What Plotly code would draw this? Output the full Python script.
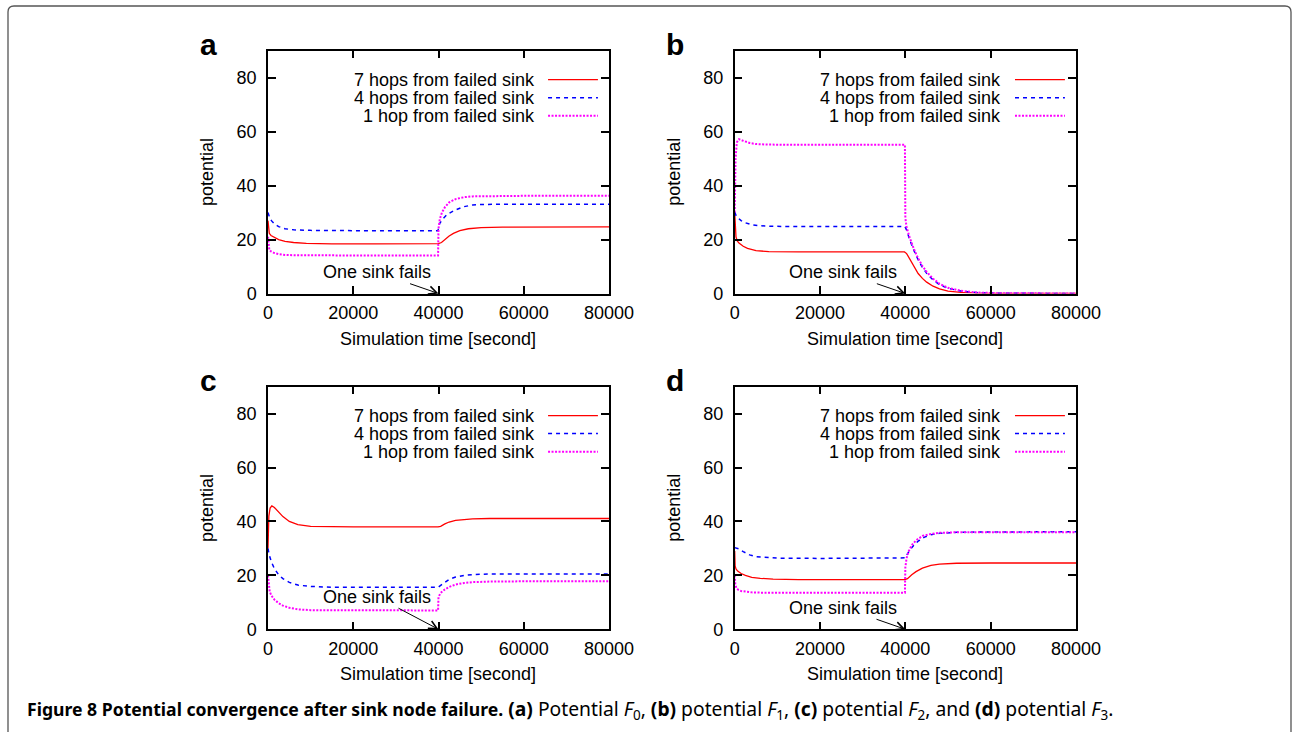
import plotly.graph_objects as go

# ---------------- data ----------------
# Panel a: potential F0
a_t7 = [0, 100, 300, 700, 1500, 2500, 4000, 6000, 9000, 15000, 25000, 35000, 40000, 40700, 41500, 42500, 43500, 45000, 47000, 50000, 55000, 63000, 70000, 80000]
a_v7 = [27, 23.5, 22.3, 21.5, 20.7, 20.0, 19.3, 18.9, 18.6, 18.4, 18.4, 18.4, 18.5, 18.9, 20.0, 21.3, 22.3, 23.3, 24.0, 24.4, 24.6, 24.7, 24.7, 24.7]
a_t4 = [0, 300, 800, 1500, 2500, 4000, 6000, 10000, 20000, 30000, 39900, 40000, 40300, 41000, 42000, 44000, 46000, 48000, 50000, 55000, 60000, 80000]
a_v4 = [30, 28.5, 27, 25.8, 24.8, 24.0, 23.6, 23.4, 23.3, 23.3, 23.3, 24.5, 26, 27.6, 29.3, 31.0, 32.2, 32.8, 33.0, 33.1, 33.1, 33.1]
a_t1 = [0, 100, 300, 700, 1500, 2500, 4000, 6000, 10000, 20000, 39900, 40000, 40300, 40800, 41500, 42500, 44000, 46000, 48000, 52000, 60000, 80000]
a_v1 = [21, 17.5, 16.3, 15.6, 15.0, 14.6, 14.3, 14.2, 14.1, 14.1, 14.1, 24, 27.5, 30, 32, 33.8, 35.0, 35.7, 36.0, 36.1, 36.2, 36.2]

# Panel b: potential F1
b_t7 = [0, 100, 300, 600, 1000, 2000, 3000, 5000, 8000, 15000, 39800, 40300, 41000, 42000, 43000, 44000, 45000, 46500, 48000, 50000, 53000, 57000, 62000, 80000]
b_v7 = [30, 24, 21, 19.5, 18.7, 17.5, 16.7, 15.9, 15.5, 15.4, 15.4, 14.8, 12.8, 9.8, 7.4, 5.6, 4.2, 2.7, 1.7, 0.9, 0.4, 0.15, 0.05, 0]
b_t4 = [0, 300, 800, 1500, 2500, 4000, 6000, 9000, 15000, 39900, 40300, 41000, 42000, 43000, 44000, 45000, 46500, 48000, 50000, 53000, 57000, 62000, 80000]
b_v4 = [30.2, 29, 28, 27, 26.2, 25.5, 25.1, 24.9, 24.8, 24.8, 23.5, 20, 16, 12.5, 9.7, 7.5, 5, 3.3, 1.9, 0.9, 0.3, 0.1, 0]
b_t1 = [0, 200, 500, 1000, 2000, 3500, 5000, 8000, 15000, 39900, 40000, 40300, 41000, 42000, 43000, 44000, 45000, 46500, 48000, 50000, 53000, 57000, 62000, 80000]
b_v1 = [30, 50, 56, 57.2, 56.6, 55.8, 55.4, 55.2, 55.1, 55.1, 28, 24.5, 20.8, 16.5, 13, 10.2, 8, 5.5, 3.6, 2.1, 1, 0.35, 0.1, 0]

# Panel c: potential F2
c_t7 = [0, 200, 500, 900, 1500, 2500, 3500, 5000, 7000, 10000, 20000, 39900, 40500, 41500, 42500, 44000, 46000, 48000, 52000, 60000, 80000]
c_v7 = [30, 42, 45, 45.8, 45.2, 43.5, 41.8, 40, 38.8, 38.2, 38, 38, 38.2, 39.1, 39.8, 40.4, 40.8, 41, 41.1, 41.1, 41.1]
c_t4 = [0, 300, 800, 1500, 2500, 3500, 5000, 7000, 10000, 15000, 39900, 40500, 41500, 42500, 44000, 46000, 48000, 52000, 60000, 80000]
c_v4 = [30, 27.5, 25, 22.5, 20.2, 18.8, 17.4, 16.4, 15.9, 15.6, 15.6, 16.3, 17.6, 18.5, 19.4, 20, 20.3, 20.5, 20.5, 20.5]
c_t1 = [0, 150, 400, 800, 1500, 2500, 3500, 5000, 7000, 10000, 20000, 39900, 40000, 40500, 41500, 42500, 44000, 46000, 48000, 52000, 60000, 80000]
c_v1 = [20, 16, 14, 12.5, 11, 9.7, 8.8, 8, 7.4, 7.1, 7, 7, 12, 13.5, 14.8, 15.7, 16.6, 17.2, 17.5, 17.7, 17.8, 17.8]

# Panel d: potential F3
d_t7 = [0, 100, 300, 700, 1500, 2500, 4000, 6000, 9000, 15000, 39900, 40500, 41500, 42500, 44000, 46000, 48000, 52000, 60000, 80000]
d_v7 = [29, 23.5, 22.4, 21.6, 20.7, 20, 19.3, 18.9, 18.6, 18.4, 18.4, 18.8, 20.2, 21.4, 22.7, 23.7, 24.2, 24.5, 24.6, 24.6]
d_t4 = [0, 1000, 2000, 3500, 5000, 7000, 10000, 20000, 39900, 40000, 40500, 41000, 42000, 43000, 44500, 46000, 48000, 52000, 60000, 80000]
d_v4 = [30.3, 29.8, 28.8, 27.6, 26.9, 26.6, 26.4, 26.3, 26.3, 26.5, 28, 29.3, 31.2, 32.7, 34.2, 35.1, 35.6, 36, 36.1, 36.2]
d_t1 = [0, 150, 400, 800, 1500, 2500, 4000, 6000, 10000, 20000, 39900, 40000, 40300, 40800, 41500, 42500, 44000, 46000, 48000, 52000, 60000, 80000]
d_v1 = [20, 16.5, 15.3, 14.7, 14.2, 13.9, 13.7, 13.6, 13.6, 13.6, 13.6, 23, 26.5, 29, 31.2, 33, 34.6, 35.4, 35.8, 36, 36, 36]

series_names = ["7 hops from failed sink", "4 hops from failed sink", "1 hop from failed sink"]
panel_letters = ["a", "b", "c", "d"]
x_ticks = [0, 20000, 40000, 60000, 80000]
y_ticks = [0, 20, 40, 60, 80]
x_title = "Simulation time [second]"
y_title = "potential"
event_label = "One sink fails"
event_time = 40000
caption_bold = "Figure 8 Potential convergence after sink node failure."
caption_rest = ("<b>(a)</b> Potential <i>F</i><sub>0</sub>, <b>(b)</b> potential <i>F</i><sub>1</sub>, "
                "<b>(c)</b> potential <i>F</i><sub>2</sub>, and <b>(d)</b> potential <i>F</i><sub>3</sub>.")

panel_data = [
    [(a_t7, a_v7), (a_t4, a_v4), (a_t1, a_v1)],
    [(b_t7, b_v7), (b_t4, b_v4), (b_t1, b_v1)],
    [(c_t7, c_v7), (c_t4, c_v4), (c_t1, c_v1)],
    [(d_t7, d_v7), (d_t4, d_v4), (d_t1, d_v1)],
]
label_y = [7.9, 7.9, 12.1, 8.0]

# ---------------- styling / layout ----------------
W, H = 1292, 735
FONT = "Liberation Sans, Arial, Helvetica, sans-serif"
styles = [
    dict(color="#ff0000", width=1.3, dash="solid"),
    dict(color="#0000ff", width=1.5, dash="4px,4px"),
    dict(color="#ff00ff", width=2.0, dash="2px,1.5px"),
]
# pixel boxes: left, right, top, bottom
boxes = [
    (268, 609, 50.7, 293.5),
    (734.7, 1076, 50.7, 293.5),
    (268, 609, 386.7, 629.3),
    (734.7, 1076, 386.7, 629.3),
]

def px(x):
    return x / W

def py(y):
    return 1 - y / H

fig = go.Figure()
annotations = []
shapes = []
layout = {}

for i, (box, data) in enumerate(zip(boxes, panel_data)):
    L, R, T, B = box
    n = "" if i == 0 else str(i + 1)
    xa, ya = "x" + n, "y" + n
    for (t, v), name, st in zip(data, series_names, styles):
        fig.add_trace(go.Scatter(x=t, y=v, mode="lines", name=name, showlegend=False,
                                 line=st, xaxis=xa, yaxis=ya, hoverinfo="skip"))
    common = dict(showline=True, linecolor="black", linewidth=1.5, mirror="ticks",
                  ticks="inside", ticklen=8, tickwidth=1.5, tickcolor="black",
                  showgrid=False, zeroline=False, fixedrange=True, automargin=False,
                  tickfont=dict(family=FONT, size=18, color="black"))
    layout["xaxis" + n] = dict(common, domain=[px(L), px(R)], anchor=ya, range=[0, 80000],
                               tickvals=x_ticks, ticktext=[str(v) for v in x_ticks],
                               ticklabelstandoff=2)
    layout["yaxis" + n] = dict(common, domain=[py(B), py(T)], anchor=xa, range=[0, 90],
                               tickvals=y_ticks, ticktext=[str(v) for v in y_ticks],
                               ticklabelstandoff=6)
    for k, (name, st) in enumerate(zip(series_names, styles)):
        yy = 79.3 - 6.7 * k
        annotations.append(dict(x=63000, y=yy, xref=xa, yref=ya, text=name, showarrow=False,
                                xanchor="right", yanchor="middle",
                                font=dict(family=FONT, size=18, color="black")))
        shapes.append(dict(type="line", xref=xa, yref=ya, x0=65700, x1=77400, y0=yy, y1=yy,
                           line=st))
    annotations.append(dict(x=event_time, y=0, xref=xa, yref=ya, ax=25500, ay=label_y[i],
                            axref=xa, ayref=ya, text=event_label, showarrow=True,
                            xanchor="center", yanchor="middle", arrowhead=5,
                            arrowsize=1.6, arrowwidth=1, arrowcolor="black",
                            font=dict(family=FONT, size=18, color="black")))
    cx = (L + R) / 2
    cy = (T + B) / 2
    annotations.append(dict(x=px(cx), y=py(B + 45), xref="paper", yref="paper", text=x_title,
                            showarrow=False, xanchor="center", yanchor="middle",
                            font=dict(family=FONT, size=18, color="black")))
    annotations.append(dict(x=px(L - 61), y=py(cy), xref="paper", yref="paper", text=y_title,
                            showarrow=False, textangle=-90, xanchor="center", yanchor="middle",
                            font=dict(family=FONT, size=18, color="black")))
    annotations.append(dict(x=px(L - 60), y=py(T - 6), xref="paper", yref="paper",
                            text="<b>" + panel_letters[i] + "</b>", showarrow=False,
                            xanchor="center", yanchor="middle",
                            font=dict(family=FONT, size=30, color="black")))

caption = ('<span style="font-size:17.6px"><b>' + caption_bold + '</b></span> ' + caption_rest)
annotations.append(dict(x=px(25), y=py(709), xref="paper", yref="paper", text=caption,
                        showarrow=False, xanchor="left", yanchor="middle",
                        font=dict(family="Noto Sans, Open Sans, sans-serif",
                                  size=19.3, color="black")))

x0, x1, y0, y1, r = 8, 1291, 6, 732, 6
path = (f"M {px(x0)},{py(y1)} L {px(x0)},{py(y0 + r)} Q {px(x0)},{py(y0)} {px(x0 + r)},{py(y0)} "
        f"L {px(x1 - r)},{py(y0)} Q {px(x1)},{py(y0)} {px(x1)},{py(y0 + r)} L {px(x1)},{py(y1)}")
shapes.append(dict(type="path", xref="paper", yref="paper", path=path,
                   line=dict(color="#555555", width=1.3)))

fig.update_layout(width=W, height=H, margin=dict(l=0, r=0, t=0, b=0, autoexpand=False),
                  paper_bgcolor="white", plot_bgcolor="white",
                  annotations=annotations, shapes=shapes, showlegend=False, **layout)
fig.write_html("out.html", config={"displayModeBar": False},
               post_script="document.body.style.margin='0';")
